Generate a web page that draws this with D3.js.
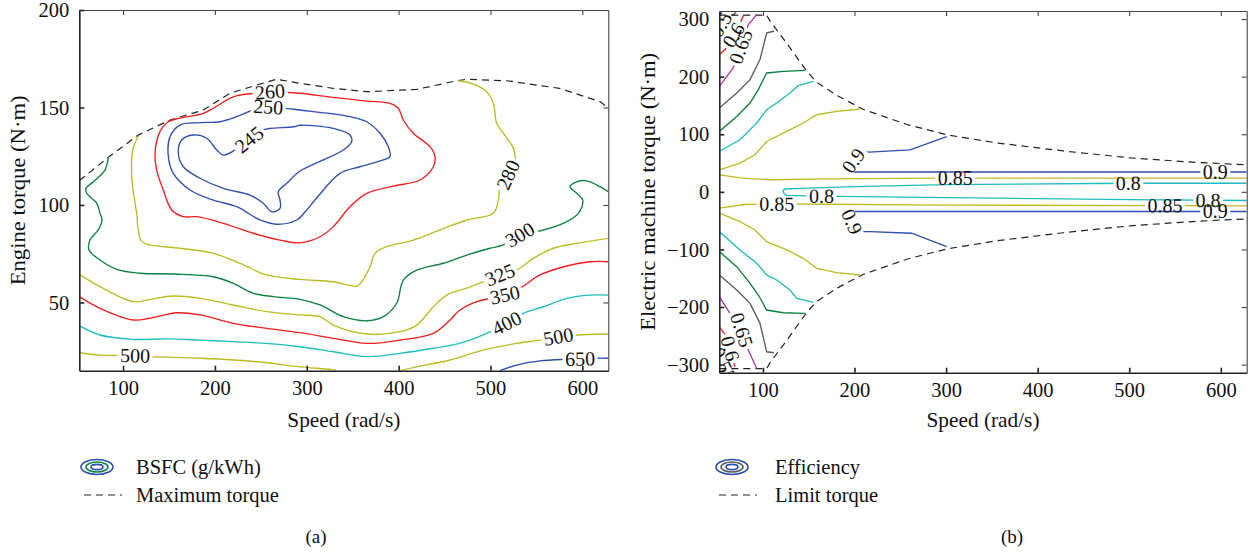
<!DOCTYPE html>
<html>
<head>
<meta charset="utf-8">
<script src="https://cdn.jsdelivr.net/npm/d3@7"></script>
<style>
  body { margin: 0; background: #fff; }
  svg text { font-family: "Liberation Serif", "DejaVu Serif", serif; fill: #111; }
</style>
</head>
<body>
<svg id="chart" width="1254" height="552"></svg>
<script>
// ---------- shared axis data ----------
const speedTicks = [100, 200, 300, 400, 500, 600];
const speedRange = [52.36, 628.3];

// ---------- panel (a): engine BSFC map ----------
const engineTorqueTicks = [50, 100, 150, 200];
const engineTorqueRange = [15, 200];

const maxTorqueSpeed = [52.4, 85.8, 116.6, 151.3, 187.4, 216.4, 245.5, 267.3, 292.7, 328.9, 365.3, 419.7, 463.3, 474.2, 517.7, 575.4, 619.3, 628.3];
const maxTorqueValue = [112.5, 125.1, 135.9, 143.6, 148.7, 157.3, 161.5, 164.5, 162.4, 159.8, 158.1, 159.3, 163.7, 164.5, 163.7, 159.8, 153.0, 149.6];

const bsfc245 = [[252.7,138.5],[260,139.3],[285.4,140.1],[292.7,140.9],[328.9,139.3],[347.1,135.9],[348.9,132.5],[339.8,128.2],[318,123.1],[292.7,117.4],[278.2,111.1],[269,106.8],[270.9,102.5],[270.9,98.3],[261.8,96.5],[252.7,100.9],[238.2,105.1],[209.2,108.5],[183.8,113.7],[165.6,119.6],[160.2,126.5],[163.8,133.3],[176.5,135.9],[191.1,134.2],[202,128.2],[209.2,125.6],[221.9,128.2],[238.2,134.4]];
const bsfc250 = [[274.2,149.7],[292.7,148.7],[328.9,146.7],[347.1,145.3],[365.3,142.7],[379.8,136.8],[388.8,129.9],[390.7,124.8],[383.4,123.1],[358,119.6],[336.2,116.2],[310.8,103.6],[298.1,96.4],[289.1,92.3],[267.3,90.1],[249.1,92.3],[223.7,99.1],[198.3,102.5],[172.9,107.7],[154.7,116.2],[149.3,124.8],[151.1,135],[162,141],[183.8,142.2],[205.6,142.7],[223.7,145.3],[241.8,148.7],[257.8,150.2]];
const bsfc260 = [[276.3,157.8],[292.7,157.3],[328.9,155.2],[365.3,153.3],[390.7,152.1],[399.7,149.6],[405.1,143.6],[416,136.8],[434.2,129.9],[439.6,124.8],[437.8,119.6],[423.3,112.8],[394.2,109.7],[365.3,106],[347.1,99.1],[328.9,88.9],[314.4,83.7],[292.7,80.6],[270.9,82],[241.8,85.5],[209.2,90.6],[180.2,94],[165.6,94],[153,97.4],[143.8,107.7],[136.6,117.9],[134.8,126.5],[140.2,137.6],[149.3,142.7],[162,144.5],[187.4,147],[198.3,149.6],[220,155.5],[243.7,157.3],[260,157.9]];
const bsfc280 = [[465,163.7],[481.4,162],[495.9,158.1],[503.1,152.1],[506.8,141.9],[514,136.8],[524.9,129.1],[526.8,123.1],[519.5,115.4],[510.4,109.4],[508.6,102.5],[503.1,95.7],[474.2,92.3],[445.1,87.2],[416,82],[387.1,78.6],[374.3,75.2],[368.9,68.3],[359.8,60.6],[354.4,58.4],[328.9,60.6],[292.7,61.8],[256.4,64.1],[227.3,70.1],[198.3,75.2],[162,77.8],[129.3,79.5],[120.3,81.2],[116.6,87.2],[114.9,95.7],[113,100.9],[109.4,114.5],[110.5,128.2],[116.6,135.4]];
const bsfc300 = [[84,124.5],[80.3,117.9],[67.6,111.9],[59.7,108.6],[60.4,106],[71.3,100.9],[74.9,95.7],[77.1,92.3],[73,87.2],[64,82],[62.9,76.9],[74.9,71.8],[93.1,67],[118.4,65],[154.7,64.6],[198.3,63.2],[220,59.8],[241.8,54.7],[263.6,53],[292.7,51.6],[314.4,48.7],[339.8,42.7],[365.3,40.6],[383.4,42.7],[397.9,49.6],[405.1,61.5],[419.7,66.6],[448.7,70.1],[474.2,74.3],[499.5,77.8],[514,79.5],[532.2,84.6],[550.4,86.3],[579.3,90.6],[595.7,95.7],[600.5,102.5],[593.9,106],[586.6,109.4],[593.9,111.9],[604.8,112.4],[619.3,109.4],[628.3,106.8]];
const bsfc325 = [[52.36,64.4],[74.9,58.1],[111.2,50.4],[129.3,51.6],[154.7,53.3],[183.8,52.1],[220,48.7],[256.4,45.3],[292.7,43.6],[314.4,42.7],[328.9,38.4],[365.3,33.8],[401.5,35],[419.7,38.4],[437.8,47.8],[452.4,53.8],[474.2,57.3],[492.2,60.6],[510.4,64.1],[528.6,66.6],[546.7,72.6],[568.5,77.8],[593.9,80.3],[628.3,82.9]];
const bsfc350 = [[52.36,53],[74.9,47],[111.2,41],[129.3,41.9],[158.4,44.7],[183.8,43.6],[220,39.3],[256.4,36.7],[292.7,34.5],[328.9,31.6],[365.3,29],[401.5,30.7],[437.8,34.2],[456,41],[466.9,46.1],[485,50.4],[499.5,52.1],[515.9,53.8],[532.2,57.3],[554,64.1],[583,68.7],[608.4,70.9],[628.3,70.9]];
const bsfc400 = [[52.36,38.1],[74.9,33.3],[111.2,31.1],[147.5,31.3],[183.8,30.7],[220,29.9],[256.4,29],[292.7,27.3],[328.9,24.7],[365.3,22.2],[401.5,23.9],[437.8,26.5],[466.9,29.1],[495.9,34.2],[517.7,39.3],[535.8,44.4],[557.6,47.8],[583,52.1],[608.4,53.8],[628.3,53.8]];
const bsfc500a = [[52.36,24.2],[74.9,23],[113,22.7],[129.3,22.2],[183.8,21.4],[220,20.5],[256.4,19.1],[292.7,17],[328.9,15.4],[331.9,15]];
const bsfc500b = [[401.5,15],[419.7,17],[456,20.5],[492.2,25.6],[528.6,29],[554,30.7],[573.9,32.4],[593.9,33.3],[628.3,33.8]];
const bsfc650 = [[510.4,15],[528.6,17.9],[554,20],[579.4,20.8],[597.5,21],[615.7,21.4],[628.3,21.4]];

// label anchor points (speed, torque)
const bsfcLabelPts = {
  245: [[237.5, 133.5]], 250: [[258.1, 150.2]], 260: [[260, 158]], 280: [[519.5, 115.4]],
  300: [[532.2, 84.6]], 325: [[510.4, 64.1]], 350: [[515.9, 53.8]], 400: [[517.7, 39.3]],
  500: [[113, 22.7], [573.9, 32.4]], 650: [[597.5, 21]]
};

// ---------- panel (b): electric machine efficiency map ----------
const motorTorqueTicks = [-300, -200, -100, 0, 100, 200, 300];
const motorTorqueRange = [-314, 314];

const limitSpeed = [52.4, 78, 104, 108, 126, 148, 159, 181, 210, 257, 301, 355, 428, 501, 574, 628.3];
const limitTorque = [307, 307, 307, 296, 258, 209, 190, 167, 143, 117, 99, 85, 71, 59, 51, 47];

const eff55Up = [[52.4,296],[56.7,307.8]];
const eff60Up = [[52.4,238],[58.6,247],[68,272],[76,296],[79,307]];
const eff65Up = [[52.4,183],[67.6,215],[76,252],[84,290],[93.2,307.8]];
const eff70Up = [[52.4,145.6],[71.4,171.6],[85.9,194.8],[96.8,229.6],[104.1,276],[112.1,278.8]];
const eff75Up = [[52.4,104.9],[71.4,131],[85.9,154.2],[95,177.4],[104.1,206.4],[122.2,209.2],[145.9,211]];
const eff80Up = [[52.4,70.1],[75,90.4],[93.2,119.5],[104.1,142.6],[115,154.2],[129.6,171.6],[138.6,184.3],[155,191.8]];
const eff85Up = [[52.4,38.3],[75,49.9],[91.3,64.3],[104.1,87.5],[126,104.9],[144.1,119.5],[158.7,133.9],[180.6,139.7],[206,143.8]];
const eff90Up = [[300.7,96],[260.6,73],[216,69],[206,70],[199,54],[193,38],[193,34.5],[628.3,34.5]];
const eff85MidUp = [[52.4,29.6],[78,23.8],[108,21],[173,22.6],[290,23.8],[628.3,23.8]];
const eff80Mid = [[628.3,15],[500,15],[300,12.5],[200,9],[140,6],[124,5],[122,2],[123,-3],[126,-6],[160,-7.5],[300,-10],[500,-13.5],[628.3,-15]];
const eff85MidDown = [[52.4,-28.4],[80,-22],[108,-21],[170,-21.5],[300,-23],[628.3,-24.3]];
const eff90Down = [[628.3,-34.2],[193,-34.2],[193,-37],[197,-52],[209.6,-69],[216.9,-69],[262.4,-71.8],[300.7,-95]];
const eff85Down = [[52.4,-37],[75,-51.6],[91.3,-66.1],[104.1,-86.4],[126,-100.9],[144.1,-115.4],[158.7,-132.8],[180.6,-140.3],[206,-144.3]];
const eff80Down = [[52.4,-69],[75,-100.9],[93.2,-124],[104.1,-144.3],[115,-153],[129.6,-170.4],[136.9,-184.9],[155,-191.9]];
const eff75Down = [[52.4,-103.8],[71.4,-129.9],[85.9,-158.8],[95,-179.1],[104.1,-205.2],[122.2,-209.9],[145.9,-211]];
const eff70Down = [[52.4,-144.3],[71.4,-170.4],[85.9,-193.6],[96.8,-228.3],[104.1,-277.7],[112.1,-279.4]];
const eff65Down = [[52.4,-182.1],[64,-211],[76.6,-239],[84,-274.8],[93.2,-306.6]];
const eff60Down = [[52.4,-234.3],[60.4,-251.7],[63.5,-268],[69.5,-303.8]];
const eff55Down = [[52.4,-289.2],[56.7,-303.8]];

const effLabelPts = {
  "0.55": [[57, 298], [57, -300]],
  "0.6": [[68, 272], [64, -272]],
  "0.65": [[76, 252], [76.6, -240]],
  "0.8": [[499, 15], [164, -7.5], [586, -14.8]],
  "0.85": [[310, 23.8], [115, -21.2], [539, -24]],
  "0.9": [[199, 54], [197, -52], [594, 34.5], [594, -34.2]]
};

// ---------- colours ----------
const C = {
  blue: "#2d4fae", red: "#f01e1e", green: "#0d8040", yellow: "#bdbb25",
  cyan: "#20bcbc", purple: "#ae35ae", gray: "#5a5a5a"
};

const svg = d3.select("#chart");
const defs = svg.append("defs");
let maskId = 0;

function nearestAngle(pts, closed, px, py, x, y) {
  let best = Infinity, ang = 0;
  const n = closed ? pts.length : pts.length - 1;
  for (let i = 0; i < n; i++) {
    const a = pts[i], b = pts[(i + 1) % pts.length];
    const x1 = x(a[0]), y1 = y(a[1]), x2 = x(b[0]), y2 = y(b[1]);
    const dx = x2 - x1, dy = y2 - y1, L = dx * dx + dy * dy || 1;
    let t = ((px - x1) * dx + (py - y1) * dy) / L;
    t = Math.max(0, Math.min(1, t));
    const d = Math.hypot(px - (x1 + t * dx), py - (y1 + t * dy));
    if (d < best) { best = d; ang = Math.atan2(dy, dx) * 180 / Math.PI; }
  }
  if (ang > 90) ang -= 180;
  if (ang < -90) ang += 180;
  return ang;
}

function drawPanel(opt) {
  const x = d3.scaleLinear().domain(speedRange).range([opt.left, opt.right]);
  const y = d3.scaleLinear().domain(opt.yRange).range([opt.bottom, opt.top]);

  const clipId = "clip-" + opt.name;
  defs.append("clipPath").attr("id", clipId).append("rect")
    .attr("x", opt.left).attr("y", opt.top)
    .attr("width", opt.right - opt.left).attr("height", opt.bottom - opt.top);

  const plot = svg.append("g").attr("clip-path", `url(#${clipId})`);
  const lineLayer = plot.append("g");
  const textLayer = plot.append("g");

  // dashed limit curve(s)
  const dashLine = d3.line().x(d => x(d[0])).y(d => y(d[1])).curve(opt.dashCurve);
  opt.dashed.forEach(pts => {
    lineLayer.append("path").attr("d", dashLine(pts))
      .attr("fill", "none").attr("stroke", "#222").attr("stroke-width", 1.2)
      .attr("stroke-dasharray", "7,5");
  });

  // contour lines, each with its own mask to open gaps for the labels
  opt.contours.forEach(c => {
    const curve = c.closed ? opt.closedCurve : opt.openCurve;
    const gen = d3.line().x(d => x(d[0])).y(d => y(d[1])).curve(curve);
    const path = lineLayer.append("path").attr("d", gen(c.pts))
      .attr("fill", "none").attr("stroke", c.color).attr("stroke-width", 1.35);
    if (!c.labels || !c.labels.length) return;

    const id = "m" + (maskId++);
    const mask = defs.append("mask").attr("id", id).attr("maskUnits", "userSpaceOnUse")
      .attr("x", 0).attr("y", 0).attr("width", 1254).attr("height", 552);
    mask.append("rect").attr("width", 1254).attr("height", 552).attr("fill", "#fff");
    path.attr("mask", `url(#${id})`);

    c.labels.forEach(p => {
      const px = x(p[0]), py = y(p[1]);
      const ang = nearestAngle(c.pts, c.closed, px, py, x, y);
      const t = textLayer.append("text")
        .attr("transform", `translate(${px},${py}) rotate(${ang})`)
        .attr("text-anchor", "middle").attr("dy", "0.33em")
        .style("font-size", opt.labelSize + "px")
        .text(c.text);
      const w = t.node().getComputedTextLength() + 5;
      mask.append("rect")
        .attr("transform", `translate(${px},${py}) rotate(${ang})`)
        .attr("x", -w / 2).attr("y", -7).attr("width", w).attr("height", 14)
        .attr("fill", "#000");
    });
  });

  // axes (ticks pointing inwards on all four sides)
  const tick = 5;
  const axB = d3.axisBottom(x).tickValues(speedTicks).tickSizeInner(-tick).tickSizeOuter(0).tickPadding(10);
  const axT = d3.axisTop(x).tickValues(speedTicks).tickSizeInner(-tick).tickSizeOuter(0).tickFormat("");
  const axL = d3.axisLeft(y).tickValues(opt.yTicks).tickSizeInner(-tick).tickSizeOuter(0).tickPadding(10);
  const axR = d3.axisRight(y).tickValues(opt.yTicks).tickSizeInner(-tick).tickSizeOuter(0).tickFormat("");

  const gT = svg.append("g").attr("transform", `translate(0,${opt.top})`).call(axT);
  const gR = svg.append("g").attr("transform", `translate(${opt.right},0)`).call(axR);
  const gB = svg.append("g").attr("transform", `translate(0,${opt.bottom})`).call(axB);
  const gL = svg.append("g").attr("transform", `translate(${opt.left},0)`).call(axL);
  [gT, gR].forEach(g => g.selectAll("path,line").attr("stroke", "#444").attr("stroke-width", 1.1));
  [gB, gL].forEach(g => g.selectAll("path,line").attr("stroke", "#222").attr("stroke-width", 1.6));
  [gB, gL].forEach(g => g.selectAll("text").style("font-size", "20.5px").attr("fill", "#111"));

  // axis titles
  svg.append("text").attr("x", (opt.left + opt.right) / 2).attr("y", 427)
    .attr("text-anchor", "middle").style("font-size", "22px")
    .attr("textLength", 113).attr("lengthAdjust", "spacingAndGlyphs")
    .text("Speed (rad/s)");
  svg.append("text").attr("transform", `translate(${opt.yTitleX},${(opt.top + opt.bottom) / 2}) rotate(-90)`)
    .attr("text-anchor", "middle").style("font-size", "22px")
    .attr("textLength", opt.yTitleLen).attr("lengthAdjust", "spacingAndGlyphs")
    .text(opt.yTitle);

  // legend
  const lg = svg.append("g").attr("transform", `translate(${opt.legendX},0)`);
  [[16, 7.5, C.blue], [11, 5, opt.iconMid], [6, 2.6, C.blue]].forEach(e => {
    lg.append("ellipse").attr("cx", 17).attr("cy", 467).attr("rx", e[0]).attr("ry", e[1])
      .attr("fill", "none").attr("stroke", e[2]).attr("stroke-width", 1.6);
  });
  lg.append("line").attr("x1", 4).attr("x2", 42).attr("y1", 495).attr("y2", 495)
    .attr("stroke", "#222").attr("stroke-width", 1.2).attr("stroke-dasharray", "7,5");
  lg.append("text").attr("x", opt.legendTextDx).attr("y", 474).style("font-size", "20.5px").text(opt.legend1);
  lg.append("text").attr("x", opt.legendTextDx).attr("y", 502).style("font-size", "20.5px").text(opt.legend2);

  svg.append("text").attr("x", opt.tagX).attr("y", 543).attr("text-anchor", "middle")
    .style("font-size", "19px").text(opt.tag);
}

// ---------- build panel (a) ----------
const bsfcContours = [
  { level: 245, pts: bsfc245, color: C.blue, closed: true },
  { level: 250, pts: bsfc250, color: C.blue, closed: true },
  { level: 260, pts: bsfc260, color: C.red, closed: true },
  { level: 280, pts: bsfc280, color: C.yellow },
  { level: 300, pts: bsfc300, color: C.green },
  { level: 325, pts: bsfc325, color: C.yellow },
  { level: 350, pts: bsfc350, color: C.red },
  { level: 400, pts: bsfc400, color: C.cyan },
  { level: 500, pts: bsfc500a, color: C.yellow, labels: [bsfcLabelPts[500][0]] },
  { level: 500, pts: bsfc500b, color: C.yellow, labels: [bsfcLabelPts[500][1]] },
  { level: 650, pts: bsfc650, color: C.blue }
].map(c => Object.assign({ text: String(c.level), labels: bsfcLabelPts[c.level] }, c));

drawPanel({
  name: "a", left: 79.3, right: 608.3, top: 10, bottom: 370.7,
  yRange: engineTorqueRange, yTicks: engineTorqueTicks,
  dashed: [maxTorqueSpeed.map((s, i) => [s, maxTorqueValue[i]])],
  dashCurve: d3.curveLinear,
  contours: bsfcContours,
  openCurve: d3.curveCatmullRom.alpha(0.5), closedCurve: d3.curveCatmullRomClosed.alpha(0.5),
  labelSize: 20,
  yTitle: "Engine torque (N\u00b7m)", yTitleX: 25, yTitleLen: 190,
  legendX: 80, legendTextDx: 56, iconMid: C.green, legend1: "BSFC (g/kWh)", legend2: "Maximum torque",
  tag: "(a)", tagX: 316
});

// ---------- build panel (b) ----------
const effContours = [
  ["0.55", eff55Up, C.blue, [effLabelPts["0.55"][0]]],
  ["0.6", eff60Up, C.red, [effLabelPts["0.6"][0]]],
  ["0.65", eff65Up, C.purple, [effLabelPts["0.65"][0]]],
  ["0.7", eff70Up, C.gray, []],
  ["0.75", eff75Up, C.green, []],
  ["0.8", eff80Up, C.cyan, []],
  ["0.85", eff85Up, C.yellow, []],
  ["0.9", eff90Up, C.blue, [effLabelPts["0.9"][0], effLabelPts["0.9"][2]]],
  ["0.85", eff85MidUp, C.yellow, [effLabelPts["0.85"][0]]],
  ["0.8", eff80Mid, C.cyan, effLabelPts["0.8"]],
  ["0.85", eff85MidDown, C.yellow, [effLabelPts["0.85"][1], effLabelPts["0.85"][2]]],
  ["0.9", eff90Down, C.blue, [effLabelPts["0.9"][1], effLabelPts["0.9"][3]]],
  ["0.85", eff85Down, C.yellow, []],
  ["0.8", eff80Down, C.cyan, []],
  ["0.75", eff75Down, C.green, []],
  ["0.7", eff70Down, C.gray, []],
  ["0.65", eff65Down, C.purple, [effLabelPts["0.65"][1]]],
  ["0.6", eff60Down, C.red, [effLabelPts["0.6"][1]]],
  ["0.55", eff55Down, C.blue, [effLabelPts["0.55"][1]]]
].map(r => ({ text: r[0], pts: r[1], color: r[2], labels: r[3] }));

drawPanel({
  name: "b", left: 719.3, right: 1246.7, top: 11, bottom: 372.7,
  yRange: motorTorqueRange, yTicks: motorTorqueTicks,
  dashed: [limitSpeed.map((s, i) => [s, limitTorque[i]]), limitSpeed.map((s, i) => [s, -limitTorque[i]])],
  dashCurve: d3.curveLinear,
  contours: effContours,
  openCurve: d3.curveLinear, closedCurve: d3.curveLinearClosed,
  labelSize: 20,
  yTitle: "Electric machine torque (N\u00b7m)", yTitleX: 655, yTitleLen: 278,
  legendX: 715, legendTextDx: 60, iconMid: C.gray, legend1: "Efficiency", legend2: "Limit torque",
  tag: "(b)", tagX: 1012
});
</script>
</body>
</html>
